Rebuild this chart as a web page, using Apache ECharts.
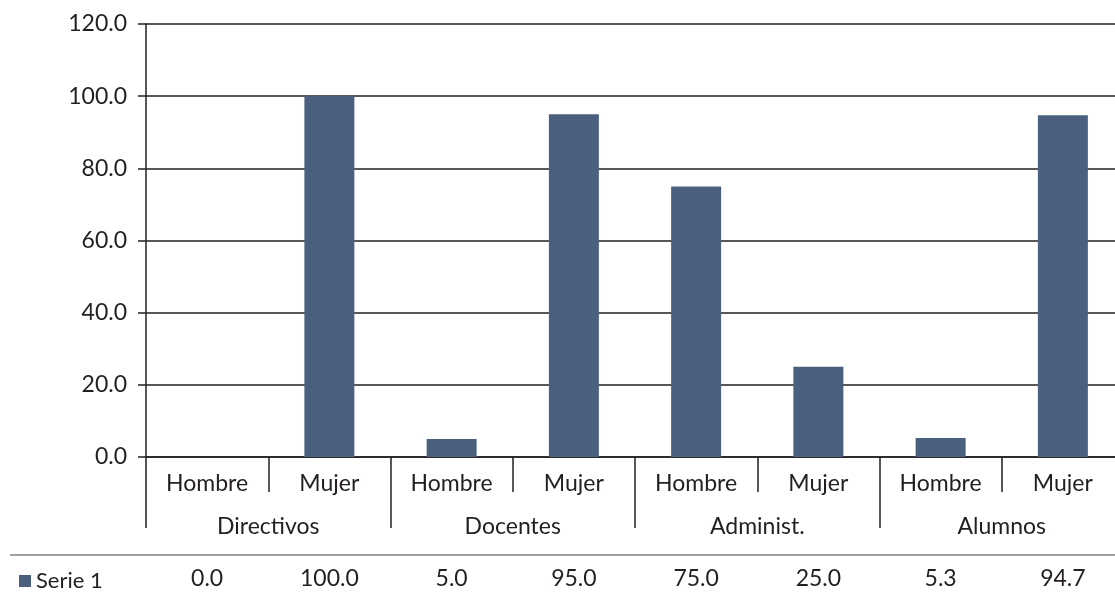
<!DOCTYPE html>
<html><head><meta charset="utf-8">
<script src="https://cdn.jsdelivr.net/npm/echarts@6/dist/echarts.min.js"></script>
<style>html,body{margin:0;padding:0;background:#fff;overflow:hidden}#c{width:1124px;height:592px}</style>
</head><body><div id="c"></div>
<script>
const subCategories = ['Hombre','Mujer','Hombre','Mujer','Hombre','Mujer','Hombre','Mujer'];
const groups = ['Directivos','Docentes','Administ.','Alumnos'];
const seriesName = 'Serie 1';
const values = [0.0, 100.0, 5.0, 95.0, 75.0, 25.0, 5.3, 94.7];
const yTicks = {min:0, max:120, interval:20};

const FONT = 'Lato';
const FS = 23;
const TXT = '#231f20';
const chart = echarts.init(document.getElementById('c'), null, {renderer:'canvas'});
chart.setOption({
  animation:false,
  textStyle:{fontFamily:FONT},
  grid:{left:146, top:24, right:0, bottom:135, containLabel:false},
  legend:{data:[seriesName], left:14, top:565, icon:'rect', itemWidth:12, itemHeight:12, itemGap:7,
    textStyle:{fontFamily:FONT, fontSize:FS-1, color:TXT}},
  graphic:[{type:'line', shape:{x1:10,y1:555,x2:1124,y2:555}, style:{stroke:'#a0a0a0', lineWidth:2}}],
  xAxis:[
    {type:'category', data:subCategories, position:'bottom',
     axisLine:{show:true, lineStyle:{color:TXT, width:1.5}},
     axisTick:{show:true, interval:0, length:35, lineStyle:{color:TXT, width:1.5}},
     axisLabel:{interval:0, margin:15, fontSize:FS, color:TXT, fontFamily:FONT}},
    {type:'category', data:groups, position:'bottom',
     axisLine:{show:false},
     axisTick:{show:true, interval:0, length:71, lineStyle:{color:TXT, width:1.5}},
     axisLabel:{interval:0, margin:58, fontSize:FS, color:TXT, fontFamily:FONT}},
    {type:'category', data:values.map(v=>v.toFixed(1)), position:'bottom', offset:100,
     axisLine:{show:false}, axisTick:{show:false},
     axisLabel:{interval:0, margin:10, fontSize:FS, color:TXT, fontFamily:FONT}}
  ],
  yAxis:{type:'value', min:yTicks.min, max:yTicks.max, interval:yTicks.interval,
    axisLine:{show:true, lineStyle:{color:TXT, width:1.5}},
    axisTick:{show:true, length:8, lineStyle:{color:TXT, width:1.5}},
    splitLine:{show:true, lineStyle:{color:TXT, width:1.5}},
    axisLabel:{margin:19, fontSize:FS, color:TXT, fontFamily:FONT, formatter:v=>v.toFixed(1)}},
  series:[{name:seriesName, type:'bar', data:values, xAxisIndex:0, barWidth:50,
    itemStyle:{color:'#4b607f'}}]
});
</script></body></html>
